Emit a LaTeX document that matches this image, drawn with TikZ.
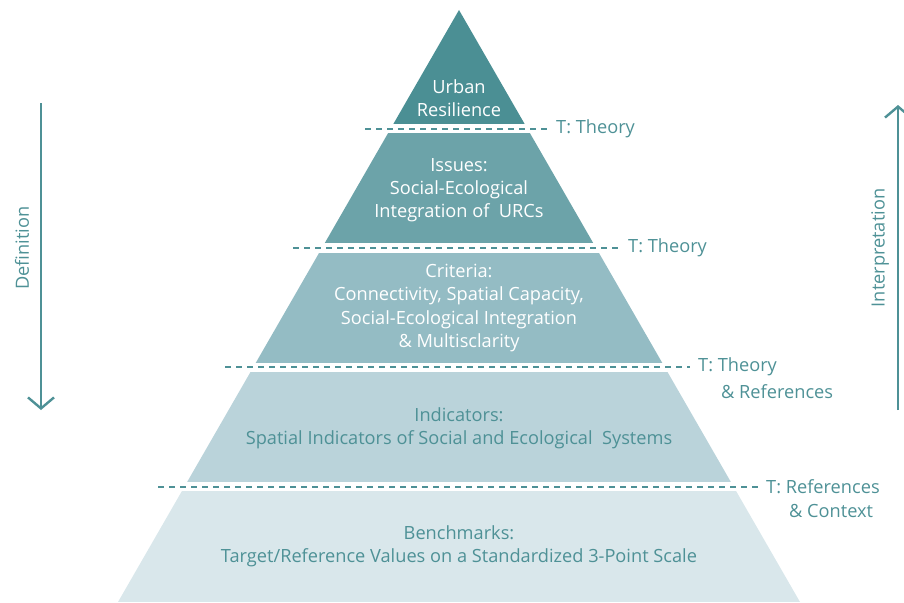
\documentclass[tikz,border=0pt]{standalone}
\usepackage{fontspec}
\setmainfont{Open Sans}
\usetikzlibrary{arrows.meta,positioning}
\definecolor{layerA}{HTML}{4B8F94}
\definecolor{layerB}{HTML}{6CA3A9}
\definecolor{layerC}{HTML}{94BCC4}
\definecolor{layerD}{HTML}{BAD3DA}
\definecolor{layerE}{HTML}{D9E7EB}
\definecolor{tealtext}{HTML}{4E9196}

\begin{document}
\begin{tikzpicture}[
  x=1pt, y=-1pt,
  lvl/.style={
    align=center,
    text=#1,
    font=\fontsize{18.2}{23.2}\selectfont
  },
  tlabel/.style={
    anchor=west,
    inner xsep=8pt,
    inner ysep=0pt,
    text=tealtext,
    font=\fontsize{18.2}{23}\selectfont
  },
  sepline/.style={draw=tealtext, line width=1.4pt, dash pattern=on 6pt off 5pt},
  flowline/.style={draw=tealtext, line width=1.8pt, -{Straight Barb[length=11pt,width=26pt,line width=2.4pt]}}
]
\useasboundingbox (0,0) rectangle (904,602);

% -------- Pyramid --------
\coordinate (apex) at (459,10);
\coordinate (baseL) at (118,602);
\coordinate (baseR) at (800,602);
\begin{scope}
\clip (apex) -- (baseL) -- (baseR) -- cycle;
\fill[layerA] (0,0)   rectangle (904,124);
\fill[layerB] (0,133) rectangle (904,243);
\fill[layerC] (0,253) rectangle (904,363);
\fill[layerD] (0,372) rectangle (904,482);
\fill[layerE] (0,491) rectangle (904,602);
\end{scope}

% -------- Level texts --------
\node[lvl=white] (urban) at (459,98) {Urban\\Resilience};
\node[lvl=white] (issues) at (459,190) {Issues:\\Social-Ecological\\Integration of~ URCs};
\node[lvl=white] (criteria) at (459,308) {Criteria:\\Connectivity, Spatial Capacity,\\Social-Ecological Integration\\\& Multisclarity};
\node[lvl=tealtext] (indicators) at (459,428) {Indicators:\\Spatial Indicators of Social and Ecological~ Systems};
\node[lvl=tealtext] (benchmarks) at (459,546) {Benchmarks:\\Target/Reference Values on a Standardized 3-Point Scale};

% -------- Separators --------
\coordinate (sep1) at (365,129);
\coordinate (sep2) at (293,248);
\coordinate (sep3) at (225,367);
\coordinate (sep4) at (158,487);
\node[tlabel] (theory1) at (548,129) {T: Theory};
\node[tlabel] (theory2) at (620,248) {T: Theory};
\node[tlabel] (theory3) at (690,367) {T: Theory};
\node[tlabel] (theory3b) at ([xshift=23pt,yshift=-25pt]theory3.west) {\& References};
\node[tlabel] (refs4) at (758,487) {T: References};
\node[tlabel] (refs4b) at ([xshift=23pt,yshift=-24pt]refs4.west) {\& Context};
\draw[sepline] (sep1) -- (theory1.west);
\draw[sepline] (sep2) -- (theory2.west);
\draw[sepline] (sep3) -- (theory3.west);
\draw[sepline] (sep4) -- (refs4.west);

% -------- Side arrows --------
\coordinate (defTop) at (41,103);
\coordinate (defEnd) at (41,410);
\coordinate (intBot) at (898,410);
\coordinate (intEnd) at (898,105);
\draw[flowline] (defTop) -- (defEnd);
\draw[flowline] (intBot) -- (intEnd);
\node[text=tealtext, rotate=90, font=\fontsize{18.2}{23}\selectfont] (definition) at (22,248) {Definition};
\node[text=tealtext, rotate=90, font=\fontsize{18.2}{23}\selectfont] (interpretation) at (880,248) {Interpretation};

\end{tikzpicture}
\end{document}
